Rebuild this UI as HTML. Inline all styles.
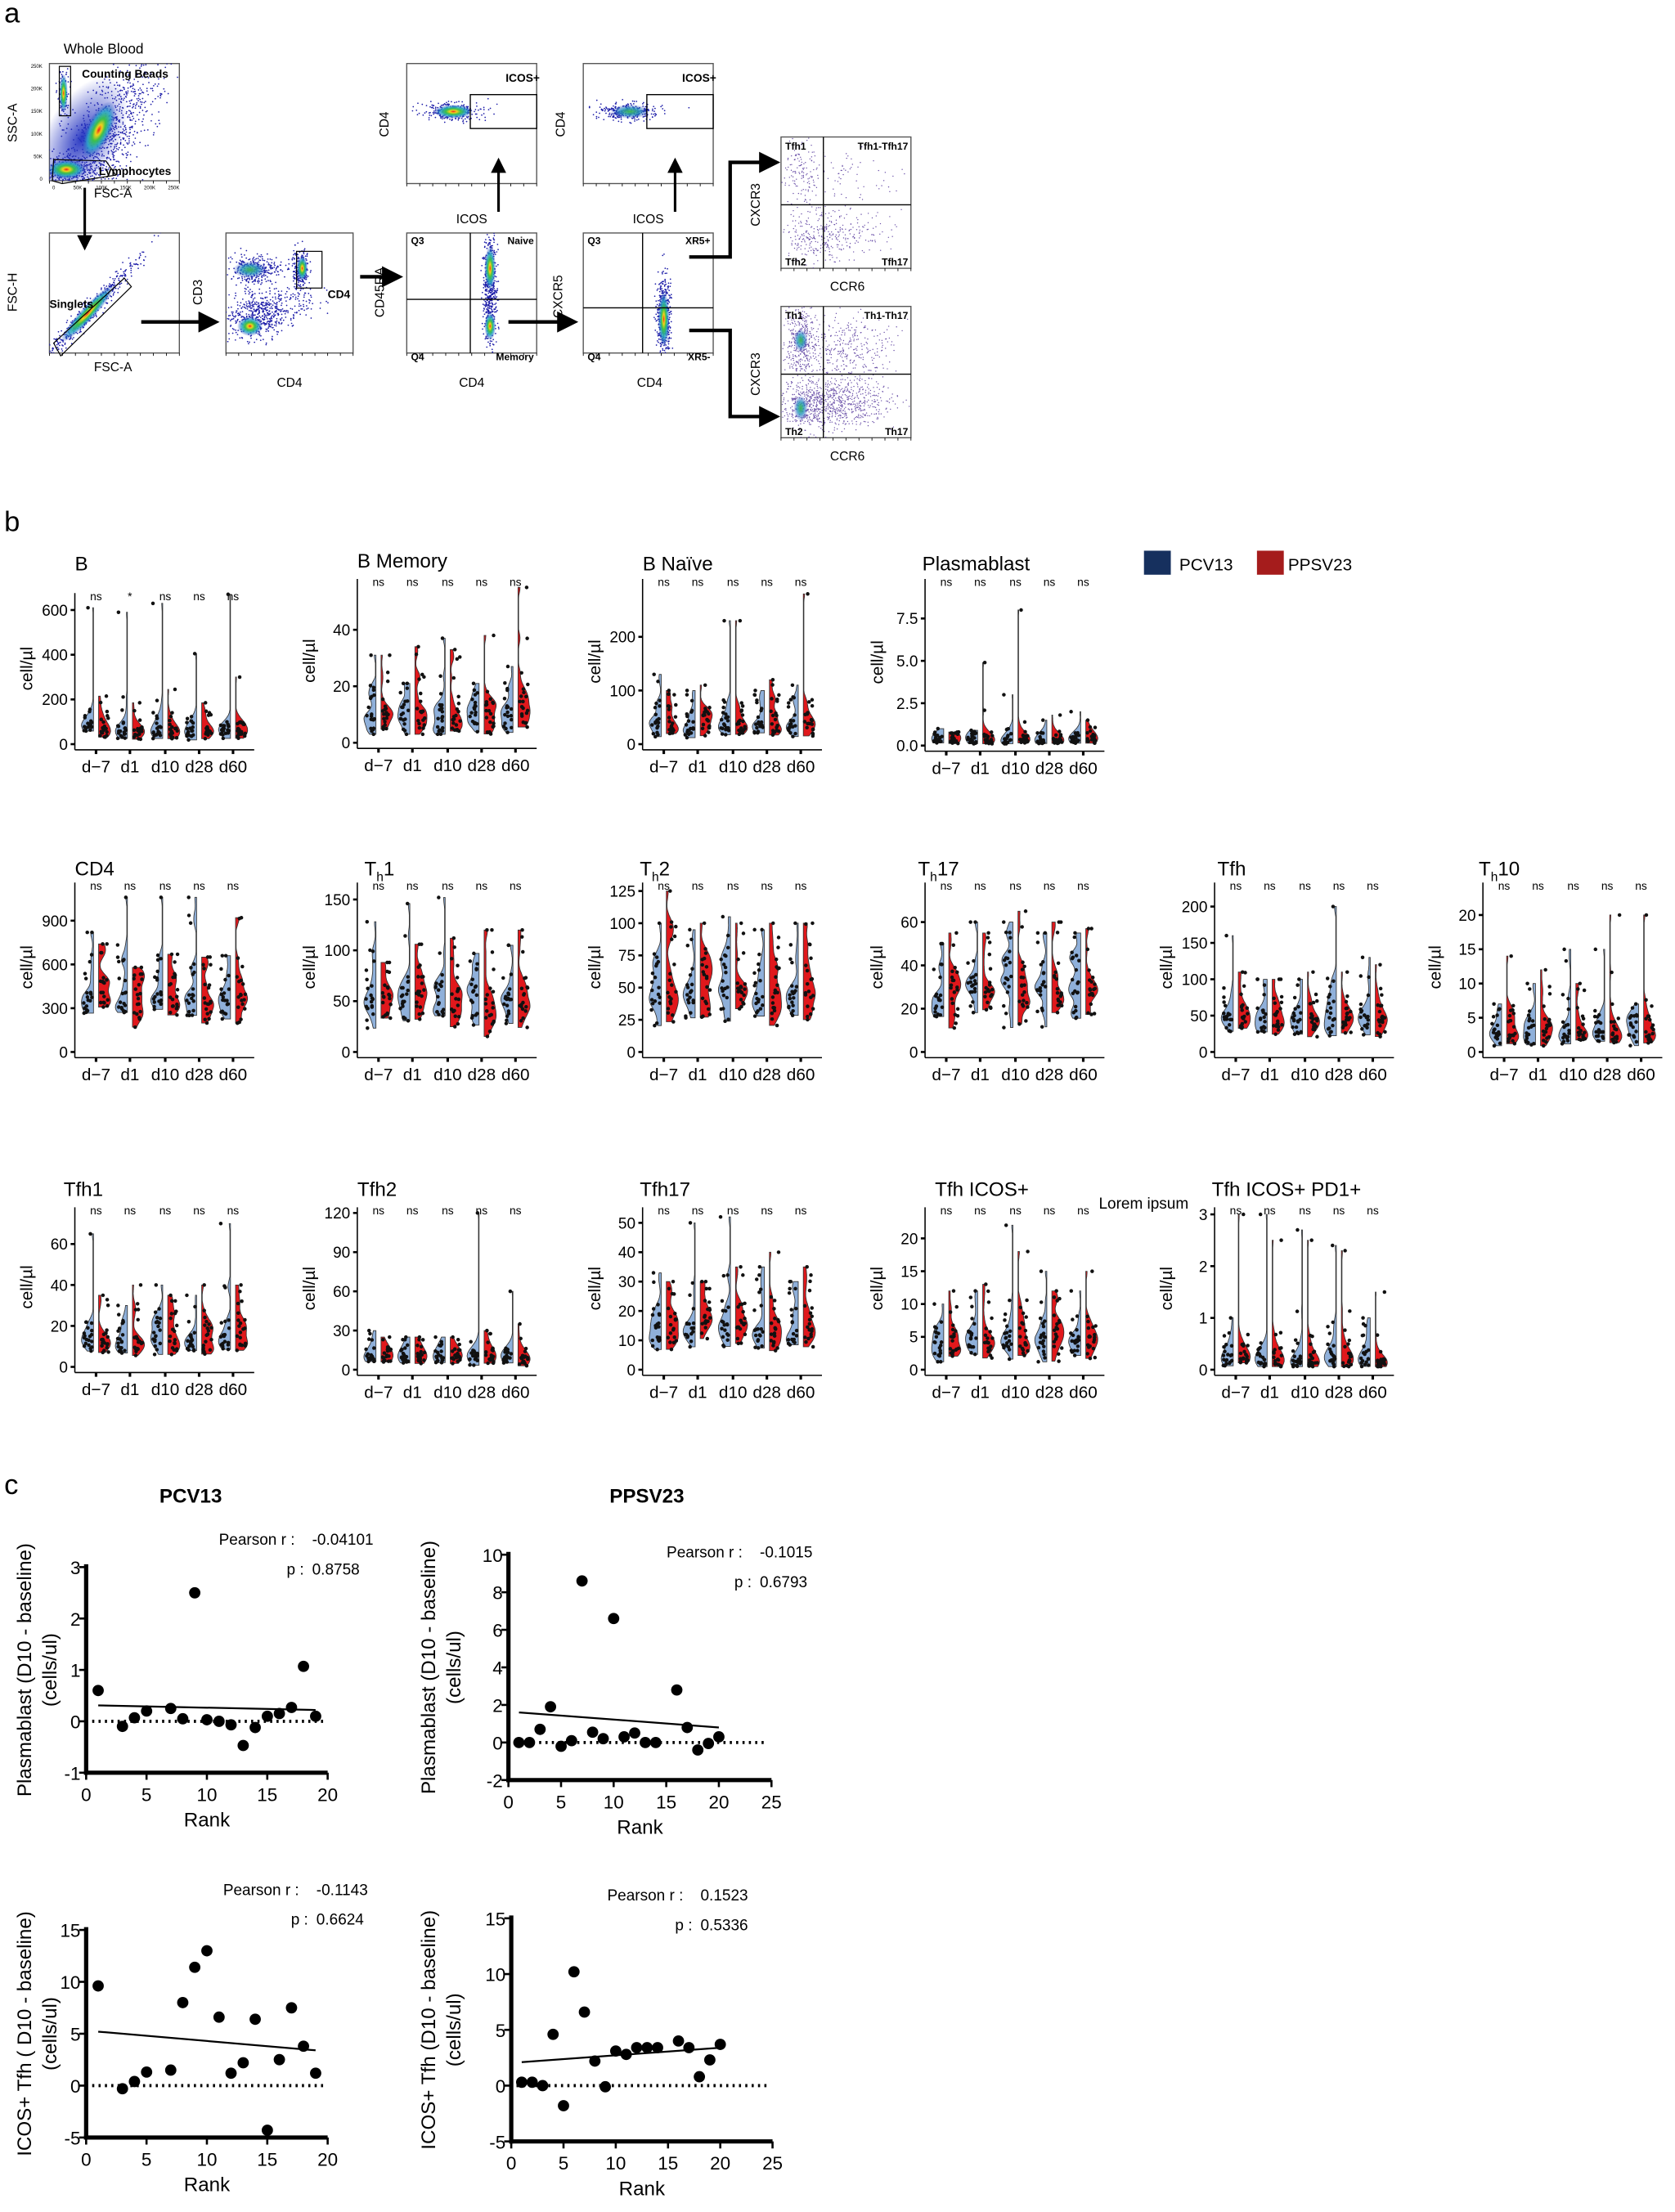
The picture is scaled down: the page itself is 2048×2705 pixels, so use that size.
<!DOCTYPE html>
<html><head><meta charset="utf-8">
<style>
html,body{margin:0;padding:0;background:#fff;}
svg{display:block;}
text{font-family:"Liberation Sans",sans-serif;fill:#000;}
</style></head>
<body>
<svg id="s" xmlns="http://www.w3.org/2000/svg" width="2048" height="2705" viewBox="0 0 1186 1566.5" preserveAspectRatio="none">
<defs>
<radialGradient id="heat">
<stop offset="0%" stop-color="#e8201c"/>
<stop offset="18%" stop-color="#f2d21c"/>
<stop offset="38%" stop-color="#3cc04a"/>
<stop offset="65%" stop-color="#28a8c8" stop-opacity="0.85"/>
<stop offset="100%" stop-color="#2030c0" stop-opacity="0"/>
</radialGradient>
<radialGradient id="heat2">
<stop offset="0%" stop-color="#40b850"/>
<stop offset="50%" stop-color="#2898c0" stop-opacity="0.8"/>
<stop offset="100%" stop-color="#2030c0" stop-opacity="0"/>
</radialGradient>
<radialGradient id="blu">
<stop offset="0%" stop-color="#2030c0" stop-opacity="0.95"/>
<stop offset="100%" stop-color="#2030c0" stop-opacity="0"/>
</radialGradient>
<marker id="ah" markerWidth="6" markerHeight="6" refX="3" refY="3" orient="auto" markerUnits="strokeWidth"><path d="M0,0 L6,3 L0,6 z" fill="#000"/></marker>
</defs>
<g id="g"></g>
</svg>
<script>
var S='';
var seed=12345;function rnd(){seed=(seed*1103515245+12345)%2147483648;return seed/2147483648;}
function gauss(){var u=rnd()||1e-6,v=rnd();return Math.sqrt(-2*Math.log(u))*Math.cos(2*Math.PI*v);}
function T(x,y,t,sz,opt){opt=opt||{};S+='<text x="'+x+'" y="'+y+'" font-size="'+sz+'"'+(opt.a?' text-anchor="'+opt.a+'"':'')+(opt.b?' font-weight="bold"':'')+(opt.r?' transform="rotate(-90 '+x+' '+y+')"':'')+'>'+t+'</text>';}
function L(x1,y1,x2,y2,w,extra){S+='<line x1="'+x1+'" y1="'+y1+'" x2="'+x2+'" y2="'+y2+'" stroke="#000" stroke-width="'+(w||1)+'"'+(extra||'')+'/>';}

/* ===== Panel a ===== */
T(3,16,'a',20);
T(45,38,'Whole Blood',10,{});
function box(x,y,w,h){S+='<rect x="'+x+'" y="'+y+'" width="'+w+'" height="'+h+'" fill="none" stroke="#555" stroke-width="0.8"/>';
 for(var i=0;i<=10;i++){L(x+i*w/10,y+h,x+i*w/10,y+h+2,0.5);} }
function dots(cx,cy,sx,sy,rot,n,col,r){var c=Math.cos(rot),s=Math.sin(rot);col=col||'#1c1ca8';r=r||0.5;
 for(var i=0;i<n;i++){var a=gauss()*sx,b=gauss()*sy;S+='<circle cx="'+(cx+a*c-b*s).toFixed(1)+'" cy="'+(cy+a*s+b*c).toFixed(1)+'" r="'+r+'" fill="'+col+'"/>';}}
function cloud(cx,cy,rx,ry,rot,g){S+='<ellipse cx="'+cx+'" cy="'+cy+'" rx="'+rx+'" ry="'+ry+'" fill="url(#'+(g||'heat')+')" transform="rotate('+rot+' '+cx+' '+cy+')"/>';}
function clip(x,y,w,h,id){S+='<clipPath id="'+id+'"><rect x="'+x+'" y="'+y+'" width="'+w+'" height="'+h+'"/></clipPath><g clip-path="url(#'+id+')">';}
/* plot1 */
box(35,45,92,83);clip(35,45,92,83,'c1');
dots(75,95,30,12,-1.0,900);dots(47,121,10,4,0,300);dots(45,65,2,10,0,120);
cloud(58,98,26,48,30,'blu');cloud(47,120,14,7,0);cloud(70,92,9,22,25);cloud(45,66,3,14,0);
S+='</g>';
S+='<rect x="42" y="47" width="8" height="35" fill="none" stroke="#000" stroke-width="0.7"/>';
S+='<polygon points="38,113 75,114 82,124 44,130 37,128" fill="none" stroke="#000" stroke-width="0.7"/>';
T(58,55,'Counting Beads',8,{b:1});T(70,124,'Lymphocytes',8,{b:1});
T(12,87,'SSC-A',9,{r:1,a:'middle'});T(80,140,'FSC-A',9,{a:'middle'});
['0','50K','100K','150K','200K','250K'].forEach(function(t,i){T(30,128-i*16,t,3.5,{a:'end'});T(38+i*17,134,t,3.5,{a:'middle'});});
/* plot2 */
box(35,165,92,85);clip(35,165,92,85,'c2');
dots(62,222,26,3,-0.82,500);cloud(62,222,28,5,-47);
S+='</g>';
S+='<polygon points="38,243 88,197 93,203 43,252" fill="none" stroke="#000" stroke-width="0.7"/>';
T(35,218,'Singlets',8,{b:1});T(12,207,'FSC-H',9,{r:1,a:'middle'});T(80,263,'FSC-A',9,{a:'middle'});
L(60,133,60,172,1.8,' marker-end="url(#ah)"');
/* plot3 */
box(160,165,90,85);clip(160,165,90,85,'c3');
dots(180,191,9,5,0,300);dots(182,225,10,8,0,400);dots(195,215,15,8,0,200);dots(213,190,3,7,0,250);
cloud(177,191,12,6,0,'heat2');cloud(177,231,9,7,0);cloud(214,190,4,9,0);
S+='</g>';
S+='<rect x="210" y="178" width="18" height="26" fill="none" stroke="#000" stroke-width="0.7"/>';
T(232,211,'CD4',8,{b:1});T(143,207,'CD3',9,{r:1,a:'middle'});T(205,274,'CD4',9,{a:'middle'});
L(100,228,148,228,2.5,' marker-end="url(#ah)"');
L(255,196,278,196,2.5,' marker-end="url(#ah)"');
/* plot4 & 5 */
function icos(x0){box(x0,45,92,85);clip(x0,45,92,85,'ci'+x0);
 dots(x0+32,79,10,3,0,300);cloud(x0+33,79,14,5,0,x0>400?'heat2':'heat');S+='</g>';
 S+='<rect x="'+(x0+45)+'" y="67" width="47" height="24" fill="none" stroke="#000" stroke-width="0.8"/>';
 T(x0+70,58,'ICOS+',8,{b:1});T(x0-13,88,'CD4',9,{r:1,a:'middle'});T(x0+46,158,'ICOS',9,{a:'middle'});
 L(x0+65,150,x0+65,117,1.8,' marker-end="url(#ah)"');}
icos(288);icos(413);
/* plot6 */
box(288,165,92,85);clip(288,165,92,85,'c6');
dots(347,205,2.5,20,0,500);cloud(347,190,4,16,0);cloud(347,231,4,10,0);
S+='</g>';L(333,165,333,250,0.8);L(288,212,380,212,0.8);
T(291,173,'Q3',7,{b:1});T(378,173,'Naive',7,{b:1,a:'end'});T(291,255,'Q4',7,{b:1});T(378,255,'Memory',7,{b:1,a:'end'});
T(272,207,'CD45RA',9,{r:1,a:'middle'});T(334,274,'CD4',9,{a:'middle'});
L(360,228,402,228,2.5,' marker-end="url(#ah)"');
/* plot7 */
box(413,165,92,85);clip(413,165,92,85,'c7');
dots(470,224,2.5,13,0,500);cloud(470,226,4,20,0);
S+='</g>';L(455,165,455,250,0.8);L(413,218,505,218,0.8);
T(416,173,'Q3',7,{b:1});T(503,173,'XR5+',7,{b:1,a:'end'});T(416,255,'Q4',7,{b:1});T(503,255,'XR5-',7,{b:1,a:'end'});
T(398,210,'CXCR5',9,{r:1,a:'middle'});T(460,274,'CD4',9,{a:'middle'});
S+='<polyline points="488,182 517,182 517,115 545,115" fill="none" stroke="#000" stroke-width="2.5" marker-end="url(#ah)"/>';
S+='<polyline points="488,234 517,234 517,295 545,295" fill="none" stroke="#000" stroke-width="2.5" marker-end="url(#ah)"/>';
/* plot8,9 */
function quad(y0,lab,dense){box(553,y0,92,93);clip(553,y0,92,93,'cq'+y0);
 var c='#6a50a8';dots(567,y0+25,6,12,0,dense?350:120,c,0.4);dots(575,y0+70,12,10,0,dense?500:200,c,0.4);dots(600,y0+68,16,8,0,dense?400:150,c,0.4);dots(600,y0+30,18,12,0,dense?350:80,c,0.4);
 if(dense){cloud(567,y0+24,5,8,0,'heat2');cloud(567,y0+72,5,9,0,'heat2');}
 S+='</g>';L(583,y0,583,y0+93,0.8);L(553,y0+48,645,y0+48,0.8);
 T(556,y0+9,lab[0],7,{b:1});T(643,y0+9,lab[1],7,{b:1,a:'end'});T(556,y0+91,lab[2],7,{b:1});T(643,y0+91,lab[3],7,{b:1,a:'end'});
 T(538,y0+48,'CXCR3',9,{r:1,a:'middle'});T(600,y0+109,'CCR6',9,{a:'middle'});}
quad(97,['Tfh1','Tfh1-Tfh17','Tfh2','Tfh17'],0);quad(217,['Th1','Th1-Th17','Th2','Th17'],1);

/* ===== Panel b ===== */
T(3,376,'b',20);
S+='<rect x="810" y="390" width="19" height="17" fill="#16305e"/><rect x="890" y="390" width="19" height="17" fill="#a51c1c"/>';
T(835,404,'PCV13',12);T(912,404,'PPSV23',12);
var offs=[15,39,64,88,112],tl=['d\u22127','d1','d10','d28','d60'];
function violinPlot(p){
 var x0=p.x,yb=p.yb,sc=(yb-p.tp)/p.tv,top=p.top;
 function Y(v){return yb-v*sc;}
 S+='<text x="'+p.tx+'" y="'+p.ty+'" font-size="14">'+p.t+'</text>';
 T(x0-30,(top+yb)/2,'cell/\u00b5l',12,{r:1,a:'middle'});
 L(x0,top,x0,yb+4,0.9);L(x0,yb+4,x0+127,yb+4,0.9);
 p.ticks.forEach(function(v,i){var y=Y(v);L(x0-3,y,x0,y,1.5);T(x0-5,y+4,p.tl?p.tl[i]:v,11,{a:'end'});});
 offs.forEach(function(o,k){var c=x0+o;L(c,yb+4,c,yb+7,1.8);T(c,yb+20,tl[k],12,{a:'middle'});
  T(c,top+5,(p.star&&k==1)?'*':'ns',8,{a:'middle'});
  [0,1].forEach(function(g){
   var sgn=g?1:-1,base=c+sgn*1.8,vals=[];
   var mx=p.mx[g][k];
   for(var i=0;i<18;i++){var v=p.m*Math.exp(p.sd*gauss());vals.push(Math.min(Math.max(v,p.m*0.3),mx*0.92));}
   vals.push(mx);vals.push(Math.min(p.m*(1.5+rnd()),mx));
   var mn=Math.min.apply(null,vals),bw=p.tv*0.05,N=50,pts=[],dmax=0;
   for(var j=0;j<=N;j++){var yv=mn+(mx-mn)*j/N,d=0;vals.forEach(function(v){var z=(yv-v)/bw;d+=Math.exp(-z*z/2);});pts.push([yv,d]);if(d>dmax)dmax=d;}
   var P='M'+base+','+Y(mn).toFixed(1);
   pts.forEach(function(q){var w=Math.max(8.5*q[1]/dmax,0.4);P+='L'+(base+sgn*w).toFixed(1)+','+Y(q[0]).toFixed(1);});
   P+='L'+base+','+Y(mx).toFixed(1)+'Z';
   S+='<path d="'+P+'" fill="'+(g?'#e0181c':'#8fb0da')+'" stroke="#333" stroke-width="0.5"/>';
   vals.forEach(function(v){S+='<circle cx="'+(base+sgn*(1+rnd()*6)).toFixed(1)+'" cy="'+Y(v).toFixed(1)+'" r="1.3" fill="#111"/>';});
  });});
}
function mk(a,b){return [a,b];}
var plots=[
{t:'B',tx:53,ty:404,x:53,yb:527,tp:432,tv:600,top:420,ticks:[0,200,400,600],m:60,sd:0.45,mx:mk([610,590,630,405,670],[215,185,245,185,300]),star:1},
{t:'B Memory',tx:253,ty:402,x:253,yb:526,tp:446,tv:40,top:410,ticks:[0,20,40],m:10,sd:0.5,mx:mk([31,21,37,21,27],[31,34,33,38,55])},
{t:'B Na\u00efve',tx:455,ty:404,x:455,yb:527,tp:451,tv:200,top:410,ticks:[0,100,200],m:40,sd:0.5,mx:mk([130,100,230,100,110],[100,110,230,120,280])},
{t:'Plasmablast',tx:653,ty:404,x:655,yb:528,tp:438,tv:7.5,top:410,ticks:[0,2.5,5,7.5],tl:['0.0','2.5','5.0','7.5'],m:0.35,sd:0.6,mx:mk([1,0.9,3,1.5,2],[0.8,4.9,8,1.8,1.5])},
{t:'CD4',tx:53,ty:620,x:53,yb:745,tp:652,tv:900,top:625,ticks:[0,300,600,900],m:380,sd:0.3,mx:mk([820,1060,1060,1060,660],[740,580,670,650,920])},
{t:'T<tspan font-size="9" dy="4">h</tspan><tspan dy="-4">1</tspan>',tx:258,ty:620,x:253,yb:745,tp:637,tv:150,top:625,ticks:[0,50,100,150],m:50,sd:0.35,mx:mk([128,146,152,97,105],[88,106,112,120,120])},
{t:'T<tspan font-size="9" dy="4">h</tspan><tspan dy="-4">2</tspan>',tx:453,ty:620,x:455,yb:745,tp:631,tv:125,top:625,ticks:[0,25,50,75,100,125],m:45,sd:0.35,mx:mk([100,95,105,95,100],[125,100,100,100,100])},
{t:'T<tspan font-size="9" dy="4">h</tspan><tspan dy="-4">17</tspan>',tx:650,ty:620,x:655,yb:745,tp:653,tv:60,top:625,ticks:[0,20,40,60],m:28,sd:0.3,mx:mk([50,60,60,55,55],[55,55,65,60,57])},
{t:'Tfh',tx:862,ty:620,x:860,yb:745,tp:642,tv:200,top:625,ticks:[0,50,100,150,200],m:45,sd:0.35,mx:mk([160,100,100,200,130],[110,100,110,110,120])},
{t:'T<tspan font-size="9" dy="4">h</tspan><tspan dy="-4">10</tspan>',tx:1047,ty:620,x:1050,yb:745,tp:648,tv:20,top:625,ticks:[0,5,10,15,20],m:3,sd:0.6,mx:mk([7,10,15,15,7],[14,12,10,20,20])},
{t:'Tfh1',tx:45,ty:847,x:53,yb:968,tp:881,tv:60,top:855,ticks:[0,20,40,60],m:14,sd:0.4,mx:mk([65,30,40,35,70],[35,40,35,40,40])},
{t:'Tfh2',tx:253,ty:847,x:253,yb:970,tp:859,tv:120,top:855,ticks:[0,30,60,90,120],m:10,sd:0.45,mx:mk([30,25,25,120,60],[25,25,25,30,35])},
{t:'Tfh17',tx:453,ty:847,x:455,yb:970,tp:866,tv:50,top:855,ticks:[0,10,20,30,40,50],m:14,sd:0.35,mx:mk([33,50,52,35,30],[30,30,35,40,35])},
{t:'Tfh ICOS+',tx:662,ty:847,x:655,yb:970,tp:877,tv:20,top:855,ticks:[0,5,10,15,20],m:4,sd:0.5,mx:mk([10,12,22,15,12],[12,13,18,12,15])},
{t:'Tfh ICOS+ PD1+',tx:858,ty:847,x:860,yb:970,tp:860,tv:3,top:855,ticks:[0,1,2,3],m:0.2,sd:0.7,mx:mk([1,3,2.7,2.4,1],[3,2.5,2.5,2.3,1.5])}
];
plots.forEach(violinPlot);
T(778,856,'Lorem ipsum',11);

/* ===== Panel c ===== */
T(3,1058,'c',20);
function scat(p){
 var X=function(v){return p.x0+v*p.xs;},Y=function(v){return p.y0-v*p.ys;};
 if(p.title)T(p.tcx,1064,p.title,14,{b:1,a:'middle'});
 var yb=Y(p.ymin),xe=X(p.xmax);
 L(p.x0,Y(p.ymax)-2,p.x0,yb+1.5,3);L(p.x0-1.5,yb,xe,yb,3);
 for(var v=p.ymin;v<=p.ymax+1e-9;v+=p.ystep){L(p.x0-5,Y(v),p.x0,Y(v),1.5);T(p.x0-4,Y(v)+5,v,13,{a:'end'});}
 for(var v=0;v<=p.xmax;v+=5){L(X(v),yb,X(v),yb+5,1.5);T(X(v),yb+20,v,13,{a:'middle'});}
 T((p.x0+xe)/2,yb+38,'Rank',14,{a:'middle'});
 L(X(0.5),Y(0),xe-3,Y(0),2.2,' stroke-dasharray="1.5,3"');
 L(X(p.l[0]),Y(p.l[1]),X(p.l[2]),Y(p.l[3]),1.3);
 p.pts.forEach(function(q){S+='<circle cx="'+X(q[0]).toFixed(1)+'" cy="'+Y(q[1]).toFixed(1)+'" r="4" fill="#000"/>';});
 T(p.lx,(Y(p.ymax)+yb)/2,p.yl1,14,{r:1,a:'middle'});T(p.lx+18,(Y(p.ymax)+yb)/2,'(cells/ul)',14,{r:1,a:'middle'});
 T(p.px,p.py,'Pearson r :',11);T(p.px+66,p.py,p.r,11);T(p.px+48,p.py+21,'p :',11);T(p.px+66,p.py+21,p.p,11);
}
scat({title:'PCV13',tcx:135,x0:61,xs:8.55,y0:1219,ys:36.4,ymin:-1,ymax:3,ystep:1,xmax:20,l:[1,0.31,19,0.22],
 pts:[[1,0.6],[3,-0.1],[4,0.07],[5,0.2],[7,0.25],[8,0.05],[9,2.5],[10,0.03],[11,0],[12,-0.07],[13,-0.47],[14,-0.12],[15,0.1],[16,0.15],[17,0.27],[18,1.07],[19,0.1]],
 yl1:'Plasmablast (D10 - baseline)',lx:22,px:155,py:1094,r:'-0.04101',p:'0.8758'});
scat({title:'PPSV23',tcx:458,x0:360,xs:7.45,y0:1234,ys:13.3,ymin:-2,ymax:10,ystep:2,xmax:25,l:[1,1.6,20,0.8],
 pts:[[1,0],[2,0],[3,0.7],[4,1.9],[5,-0.2],[6,0.1],[7,8.6],[8,0.55],[9,0.2],[10,6.6],[11,0.3],[12,0.5],[13,0],[14,0],[16,2.8],[17,0.8],[18,-0.4],[19,-0.05],[20,0.3]],
 yl1:'Plasmablast (D10 - baseline)',lx:308,px:472,py:1103,r:'-0.1015',p:'0.6793'});
scat({x0:61,xs:8.55,y0:1477,ys:7.35,ymin:-5,ymax:15,ystep:5,xmax:20,l:[1,5.2,19,3.4],
 pts:[[1,9.6],[3,-0.3],[4,0.4],[5,1.3],[7,1.5],[8,8],[9,11.4],[10,13],[11,6.6],[12,1.2],[13,2.2],[14,6.4],[15,-4.3],[16,2.5],[17,7.5],[18,3.8],[19,1.2]],
 yl1:'ICOS+ Tfh ( D10 - baseline)',lx:22,px:158,py:1342,r:'-0.1143',p:'0.6624'});
scat({x0:362,xs:7.4,y0:1477,ys:7.9,ymin:-5,ymax:15,ystep:5,xmax:25,l:[1,2.1,20,3.4],
 pts:[[1,0.3],[2,0.3],[3,0],[4,4.6],[5,-1.8],[6,10.2],[7,6.6],[8,2.2],[9,-0.1],[10,3.1],[11,2.8],[12,3.4],[13,3.4],[14,3.4],[16,4],[17,3.4],[18,0.8],[19,2.3],[20,3.7]],
 yl1:'ICOS+ Tfh (D10 - baseline)',lx:308,px:430,py:1346,r:'0.1523',p:'0.5336'});
document.getElementById('g').innerHTML=S;
</script>
</body></html>
